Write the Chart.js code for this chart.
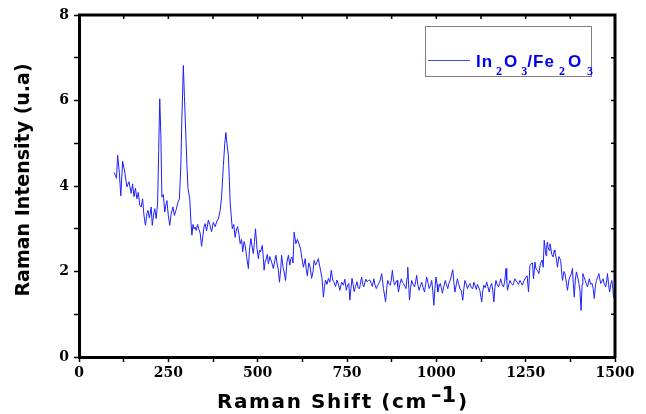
<!DOCTYPE html>
<html lang="en">
<head>
<meta charset="UTF-8">
<script src="https://cdn.jsdelivr.net/npm/chart.js"></script>
<style>
body { margin: 0; background: #fff; }
#wrap { width: 646px; height: 414px; }
</style>
</head>
<body>
<div id="wrap"><canvas id="raman" width="646" height="414"></canvas></div>
<script>
// Raman shift (cm-1) and intensity (u.a)
const shift = [98,102,105,108,113,117,122,128,134,140,146,150,154,158,162,166,170,174,178,182,186,190,193,197,202,205,209,212,216,220,223,226,229,232,236,240,243,246,250,254,258,263,267,272,277,281,285,288,292,295,299,302,305,310,313,316,319,322,325,328,332,335,339,343,347,350,353,357,362,366,371,376,381,386,390,395,399,404,408,411,414,418,421,423,426,429,433,437,441,444,448,451,455,458,462,465,469,474,477,481,485,488,491,494,498,502,505,508,511,513,516,518,521,523,527,530,534,539,544,548,551,555,558,561,565,567,571,574,578,582,586,590,593,596,599,602,607,611,614,620,624,628,633,636,639,643,647,651,655,658,662,666,670,673,676,680,684,687,690,694,698,702,706,710,713,718,722,726,730,735,740,744,748,752,755,758,761,764,767,770,774,778,781,785,788,791,794,797,800,803,806,810,814,818,821,825,828,832,836,839,843,847,850,852,855,858,861,864,867,871,874,877,880,883,886,890,892,894,898,902,905,908,912,915,918,920,923,925,928,931,935,939,942,945,948,952,955,959,963,967,970,973,977,980,984,987,990,993,996,999,1002,1004,1008,1011,1014,1017,1021,1025,1028,1032,1035,1039,1042,1046,1049,1052,1056,1059,1062,1066,1070,1074,1077,1080,1084,1087,1090,1094,1098,1102,1105,1108,1112,1115,1118,1122,1127,1130,1133,1137,1141,1144,1148,1151,1155,1158,1161,1164,1167,1170,1174,1177,1180,1184,1188,1191,1195,1197,1199,1203,1206,1210,1214,1217,1220,1223,1226,1230,1234,1237,1241,1244,1248,1251,1254,1258,1262,1265,1269,1272,1276,1279,1283,1287,1291,1296,1299,1302,1305,1307,1309,1311,1313,1316,1318,1320,1323,1327,1330,1332,1336,1339,1343,1348,1350,1353,1357,1360,1364,1367,1371,1374,1378,1381,1383,1386,1389,1392,1396,1399,1402,1405,1408,1410,1414,1417,1420,1423,1426,1428,1432,1436,1439,1442,1445,1448,1452,1455,1458,1460,1464,1467,1470,1474,1477,1479,1482,1485,1488,1491,1494,1496,1500];
const intensity = [4.32,4.25,4.18,4.72,4.30,3.77,4.58,4.33,3.98,4.10,3.83,4.05,3.75,3.95,3.70,3.85,3.55,3.51,3.70,3.30,3.08,3.35,3.43,3.25,3.51,3.08,3.35,3.47,3.24,3.60,4.80,6.04,5.20,3.74,3.80,3.39,3.55,3.66,3.30,3.08,3.35,3.51,3.31,3.45,3.62,3.70,4.48,5.60,6.82,6.10,5.19,4.50,3.94,3.70,3.20,2.85,3.10,3.00,3.04,2.96,3.10,3.00,2.90,2.59,2.85,3.05,3.12,2.95,3.20,3.10,2.93,3.15,3.05,3.18,3.23,3.43,3.74,4.48,5.00,5.25,5.00,4.72,4.10,3.63,3.30,3.00,3.10,2.80,3.00,3.05,2.85,2.65,2.75,2.46,2.70,2.61,2.35,2.07,2.50,2.77,2.55,2.42,2.70,3.00,2.55,2.30,2.50,2.46,2.55,2.61,2.30,2.03,2.25,2.26,2.40,2.18,2.35,2.22,2.07,2.25,2.38,2.15,2.03,1.75,2.10,2.38,2.10,1.99,1.79,2.22,2.38,2.15,2.30,2.34,2.20,2.92,2.65,2.75,2.69,2.53,2.30,2.10,2.30,2.05,1.90,2.20,2.10,1.84,2.00,2.26,2.15,2.22,2.30,2.15,2.03,1.85,1.40,1.65,1.80,1.70,1.84,1.75,2.03,1.80,1.76,1.65,1.80,1.70,1.56,1.75,1.68,1.82,1.56,1.70,1.72,1.33,1.60,1.84,1.70,1.53,1.65,1.76,1.62,1.60,1.75,1.87,1.70,1.64,1.75,1.82,1.76,1.79,1.80,1.72,1.65,1.83,1.70,1.60,1.68,1.72,1.80,1.95,1.75,1.60,1.45,1.29,1.60,1.79,1.72,1.68,1.80,2.03,1.80,1.68,1.74,1.79,1.65,1.52,1.70,1.83,1.75,1.72,1.65,1.60,1.85,2.10,1.60,1.33,1.62,1.79,1.70,1.64,1.76,1.91,1.70,1.56,1.65,1.75,1.62,1.52,1.70,1.87,1.72,1.60,1.68,1.79,1.55,1.21,1.60,1.87,1.70,1.52,1.65,1.72,1.62,1.49,1.65,1.79,1.70,1.60,1.72,1.80,1.90,2.04,1.75,1.52,1.70,1.83,1.72,1.60,1.55,1.33,1.60,1.79,1.70,1.60,1.66,1.72,1.62,1.60,1.75,1.68,1.58,1.70,1.64,1.55,1.29,1.55,1.68,1.62,1.75,1.65,1.52,1.65,1.72,1.55,1.29,1.62,1.79,1.70,1.64,1.72,1.83,1.70,1.64,1.75,2.07,1.80,1.56,1.70,1.79,1.72,1.68,1.75,1.83,1.78,1.75,1.70,1.79,1.74,1.68,1.76,1.83,1.87,1.90,1.52,2.14,2.18,2.20,1.83,2.22,2.06,2.03,1.95,2.18,2.27,2.10,2.73,2.50,2.37,2.60,2.69,2.55,2.49,2.65,2.57,2.40,2.34,2.50,2.45,2.30,2.10,2.35,2.26,2.05,1.79,2.00,1.95,1.75,1.56,1.80,1.87,1.95,2.07,1.75,1.40,1.80,1.99,1.85,1.72,1.55,1.09,1.70,1.95,1.85,1.79,1.70,1.64,1.75,1.83,1.70,1.72,1.60,1.37,1.65,1.79,1.88,1.95,1.80,1.72,1.78,1.83,1.70,1.64,1.80,1.95,1.70,1.52,1.70,1.79,1.60,1.40,1.55];

const xTicks = [0, 250, 500, 750, 1000, 1250, 1500];
const yTicks = [0, 2, 4, 6, 8];

const points = shift.map((s, i) => ({x: s, y: intensity[i]}));

// extra drawing: top/right frame, inner ticks, titles, legend box
const extras = {
    id: 'extras',
    afterDraw(chart) {
        const ctx = chart.ctx;
        const a = chart.chartArea;
        const sx = chart.scales.x, sy = chart.scales.y;
        ctx.save();
        ctx.strokeStyle = '#000';
        ctx.lineWidth = 3;
        ctx.beginPath();
        ctx.moveTo(a.left - 1, a.top);
        ctx.lineTo(a.right, a.top);
        ctx.lineTo(a.right, a.bottom + 1);
        ctx.stroke();

        ctx.lineWidth = 1.5;
        ctx.beginPath();
        for (let v = 125; v < 1500; v += 125) {
            const px = sx.getPixelForValue(v);
            ctx.moveTo(px, a.top);
            ctx.lineTo(px, a.top + 4);
        }
        for (let v = 1; v < 8; v++) {
            const py = sy.getPixelForValue(v);
            ctx.moveTo(a.right, py);
            ctx.lineTo(a.right - 4, py);
        }
        ctx.stroke();

        // y title
        ctx.fillStyle = '#000';
        ctx.font = 'bold 19px "DejaVu Sans"';
        ctx.textAlign = 'center';
        ctx.textBaseline = 'middle';
        ctx.save();
        ctx.translate(24, 180);
        ctx.rotate(-Math.PI / 2);
        ctx.fillText('Raman Intensity (u.a)', 0, 0);
        ctx.restore();

        // x title with superscript
        ctx.textAlign = 'left';
        ctx.textBaseline = 'alphabetic';
        ctx.letterSpacing = '1.6px';
        let x = 217;
        ctx.font = 'bold 20px "DejaVu Sans"';
        ctx.fillText('Raman Shift (cm', x, 408);
        x += ctx.measureText('Raman Shift (cm').width + 3;
        ctx.letterSpacing = '0px';
        ctx.font = 'bold 21px "DejaVu Sans"';
        ctx.fillText('\u20131', x, 402);
        x += ctx.measureText('\u20131').width + 2;
        ctx.font = 'bold 20px "DejaVu Sans"';
        ctx.fillText(')', x, 408);

        // legend
        ctx.strokeStyle = '#808080';
        ctx.lineWidth = 1;
        ctx.strokeRect(425.5, 26.5, 166, 50);
        ctx.strokeStyle = 'rgb(70,70,255)';
        ctx.beginPath();
        ctx.moveTo(428, 60.5);
        ctx.lineTo(470, 60.5);
        ctx.stroke();
        ctx.fillStyle = '#0000ee';
        const parts = [['In', 0, 0, 3], ['2', 1, 0, 2], ['O', 0, 0, 3], ['3', 1, 0, 0],
                       ['/Fe', 0, 0, 4], ['2', 1, 0, 3], ['O', 0, 0, 5], ['3', 1, 0, 0]];
        let lx = 476;
        parts.forEach(p => {
            ctx.font = p[1] ? 'bold 12px "Liberation Serif"' : 'bold 17px "Liberation Sans"';
            ctx.letterSpacing = p[1] ? '0px' : '1px';
            ctx.fillText(p[0], lx, p[1] ? 75 : 67);
            lx += ctx.measureText(p[0]).width + p[3];
        });
        ctx.restore();
    }
};

new Chart(document.getElementById('raman'), {
    type: 'scatter',
    data: {
        datasets: [{
            label: 'In2O3/Fe2O3',
            data: points,
            showLine: true,
            borderColor: 'rgb(30,30,255)',
            borderWidth: 1,
            pointRadius: 0,
            tension: 0
        }]
    },
    options: {
        responsive: false,
        animation: false,
        devicePixelRatio: 1,
        layout: { padding: { top: 15, right: 31, left: 0, bottom: 0 } },
        plugins: { legend: { display: false }, tooltip: { enabled: false } },
        scales: {
            x: {
                type: 'linear',
                min: 0, max: 1500,
                afterBuildTicks: s => { s.ticks = []; for (let v = 0; v <= 1500; v += 125) s.ticks.push({value: v}); },
                afterFit: s => { s.height = 57; },
                border: { display: true, color: '#000', width: 3 },
                grid: { drawOnChartArea: false, drawTicks: true, tickLength: 5, color: '#000', tickWidth: 1.5 },
                ticks: {
                    autoSkip: false, maxRotation: 0, padding: 3, color: '#000',
                    font: { family: 'DejaVu Serif', weight: 'bold', size: 14 },
                    callback: v => xTicks.includes(v) ? v : ''
                }
            },
            y: {
                min: 0, max: 8,
                afterBuildTicks: s => { s.ticks = []; for (let v = 0; v <= 8; v++) s.ticks.push({value: v}); },
                afterFit: s => { s.width = 79; },
                border: { display: true, color: '#000', width: 3 },
                grid: { drawOnChartArea: false, drawTicks: true, tickLength: 5, color: '#000', tickWidth: 1.5 },
                ticks: {
                    autoSkip: false, padding: 5, color: '#000',
                    font: { family: 'DejaVu Serif', weight: 'bold', size: 14 },
                    callback: v => yTicks.includes(v) ? v : ''
                }
            }
        }
    },
    plugins: [extras]
});
</script>
</body>
</html>
